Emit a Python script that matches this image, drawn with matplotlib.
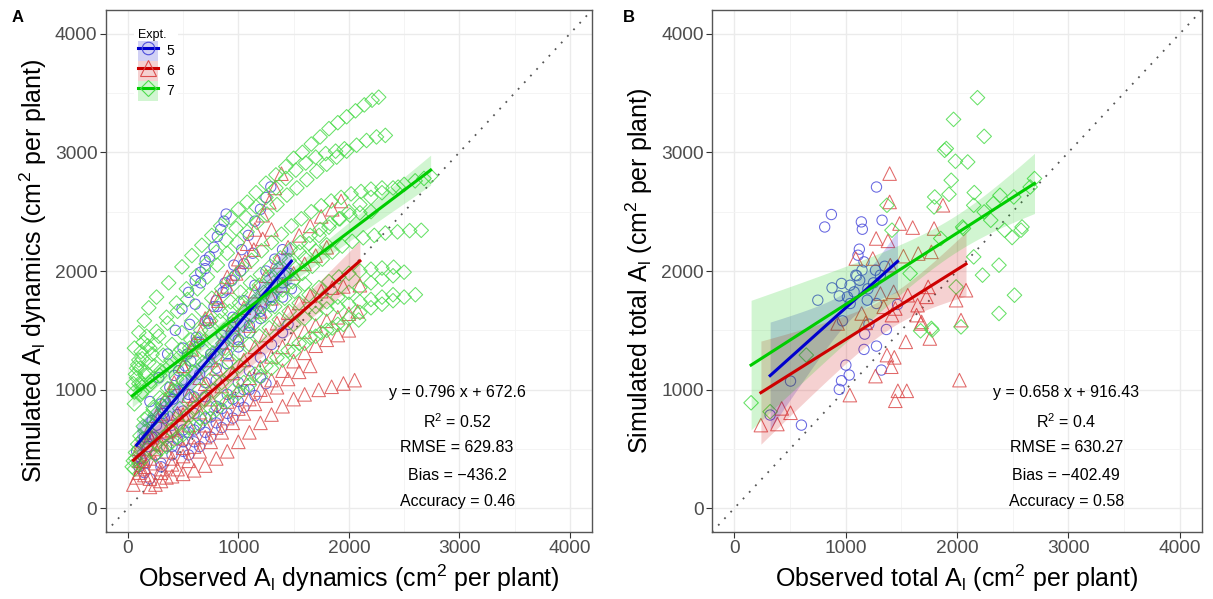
import numpy as np
import matplotlib
matplotlib.use("Agg")
import matplotlib.pyplot as plt
from matplotlib.lines import Line2D
from matplotlib.patches import Patch
from matplotlib.ticker import MultipleLocator

# ---------------------------------------------------------------
# data
# ---------------------------------------------------------------

# panel A - leaf area dynamics, (observed, simulated) per expt
a5_pts = [
    (100,350),(180,520),(260,700),(340,900),(420,1120),(500,1350),(560,1550),(610,1720),
    (660,1900),(700,2020),(740,2120),(780,2200),(810,2290),(840,2350),(870,2420),(890,2480),
    (120,420),(220,600),(320,800),(420,1000),(520,1200),(620,1400),(720,1580),(800,1750),
    (880,1900),(960,2050),(1030,2180),(1090,2300),(1150,2420),(1200,2520),(1250,2620),(1294,2709),
    (150,300),(250,450),(350,620),(450,790),(550,960),(650,1130),(750,1300),(850,1460),
    (950,1610),(1050,1750),(1150,1880),(1250,2000),(1330,2100),(1400,2180),
    (200,250),(300,380),(400,520),(500,660),(600,800),(700,940),(800,1080),(900,1220),
    (1000,1360),(1100,1480),(1200,1600),(1300,1700),(1400,1780),(1480,1850),
    (250,600),(330,760),(410,920),(490,1080),(570,1240),(650,1400),(730,1560),(810,1700),
    (890,1840),(970,1960),(1050,2060),(1130,2150),
    (150,380),(250,450),(350,520),(450,580),(550,640),(650,700),(750,770),(850,840),
    (950,920),(1050,1000),
    (80,480),(150,600),(220,740),(300,880),(380,1020),(460,1160),(540,1300),(620,1440),
    (700,1580),(780,1700),(860,1820),(940,1920),(1020,2000),
    (200,900),(280,1100),(360,1300),(430,1500),(490,1680),(550,1820),(610,1920),(660,1990),(700,2090),
    (300,350),(400,450),(500,560),(600,660),(700,760),(800,860),(900,960),(1000,1060),
    (1100,1160),(1200,1270),(1300,1380),(1400,1480),(1450,1550),
    (400,700),(500,820),(600,940),(700,1060),(800,1180),(900,1300),(1000,1420),(1100,1540),
    (1200,1660),(1300,1780),(1400,1900),(1460,1980),
    (500,480),(600,560),(700,640),(800,720),(900,800),(1000,900),(1100,1000),(1200,1100),
    (550,450),(650,520),(750,600),(850,680),(950,760),(1050,850),(1150,950),(1250,1050),
]

a6_pts = [
    (100,400),(200,600),(300,800),(400,1000),(500,1200),(600,1400),(700,1600),(800,1780),
    (900,1950),(1000,2100),(1080,2230),(1150,2350),(1220,2470),(1280,2580),(1330,2700),(1390,2820),
    (150,350),(250,500),(350,650),(450,800),(550,950),(650,1100),(750,1250),(850,1400),
    (950,1550),(1050,1690),(1150,1830),(1250,1960),(1350,2080),(1450,2200),(1550,2300),(1650,2380),
    (1750,2460),(1850,2520),(1930,2590),
    (100,300),(200,420),(300,540),(400,660),(500,790),(600,920),(700,1050),(800,1180),
    (900,1300),(1000,1420),(1100,1540),(1200,1660),(1300,1770),(1400,1880),(1500,1980),(1600,2060),
    (1700,2130),(1800,2200),
    (150,280),(250,380),(350,480),(450,590),(550,700),(650,810),(750,920),(850,1030),
    (950,1140),(1050,1250),(1150,1360),(1250,1460),(1350,1560),(1450,1650),(1550,1730),(1650,1790),
    (1750,1830),(1850,1860),(1950,1870),(2100,1880),
    (200,250),(300,330),(400,420),(500,510),(600,600),(700,700),(800,800),(900,900),
    (1000,1000),(1100,1100),(1200,1190),(1300,1280),(1400,1360),(1500,1430),(1600,1490),(1700,1540),
    (1800,1580),(1900,1610),(2000,1640),(2080,1660),
    (200,180),(300,230),(400,270),(500,290),(600,320),(700,360),(800,420),(900,480),
    (1000,560),(1100,640),(1200,720),(1300,790),(1400,860),(1500,920),(1600,960),(1727,998),
    (1844,1024),(1951,1052),(2052,1080),
    (300,300),(400,370),(500,440),(600,520),(700,600),(800,680),(900,760),(1000,840),
    (1100,920),(1200,1000),(1300,1080),(1400,1160),(1500,1240),(1600,1310),(1700,1370),(1800,1420),
    (1900,1460),(2000,1500),
    (100,500),(180,640),(260,780),(340,920),(420,1060),(500,1200),(580,1340),(660,1480),
    (740,1620),(820,1750),(900,1870),(980,1980),(1060,2080),(1140,2180),(1220,2270),(1300,2350),
    (250,200),(350,260),(450,330),(550,400),(650,480),(750,560),(850,640),(950,720),
    (1050,800),(1150,880),(1250,950),(1350,1020),(1450,1090),(1550,1150),(1650,1200),
    (50,200),(80,260),(110,330),(140,400),
]

a7_pts = [
    (60,1350),(100,1480),(150,1580),(190,1690),(260,1780),(370,1900),(490,2035),(580,2130),
    (670,2217),(760,2300),(840,2380),(930,2450),(1000,2520),(1080,2580),(1160,2660),
    (1250,2740),(1340,2810),(1430,2880),(1500,2950),(1580,3000),(1660,3070),(1740,3130),(1820,3200),
    (1900,3250),(1980,3300),(2060,3350),(2140,3400),(2210,3440),(2270,3465),
    (100,1250),(180,1370),(260,1490),(350,1610),(440,1730),(530,1850),(620,1960),(710,2060),
    (800,2160),(890,2260),(980,2360),(1070,2450),(1160,2540),(1250,2620),(1340,2700),(1430,2780),
    (1520,2850),(1610,2910),(1700,2960),(1790,2990),(1880,3010),(1960,3030),
    (80,1180),(130,1260),(200,1350),(280,1450),(360,1560),(450,1660),(540,1760),(630,1850),
    (720,1950),(810,2050),(900,2150),(990,2240),(1080,2330),(1170,2410),(1260,2480),(1350,2560),
    (1440,2640),(1530,2700),(1620,2770),(1710,2840),(1800,2900),(1890,2960),(1980,3010),(2070,3060),
    (2160,3100),(2250,3130),(2330,3143),
    (100,1050),(160,1120),(240,1200),(320,1290),(400,1380),(490,1480),(580,1580),(670,1670),
    (760,1770),(850,1850),(940,1930),(1030,2010),(1120,2090),(1210,2170),(1300,2240),(1390,2310),
    (1480,2380),(1570,2440),(1660,2500),(1750,2550),(1840,2590),(1930,2620),(2020,2650),(2110,2670),
    (2200,2690),(2300,2700),(2446,2707),
    (130,980),(210,1070),(300,1160),(390,1250),(480,1340),(570,1420),(660,1500),(750,1580),
    (840,1660),(930,1740),(1020,1820),(1110,1900),(1200,1970),(1290,2040),(1380,2110),(1470,2180),
    (1560,2240),(1650,2300),(1740,2350),(1830,2400),(1920,2440),(2010,2470),(2100,2490),(2200,2500),
    (60,880),(120,960),(200,1040),(290,1120),(380,1200),(470,1280),(560,1350),(650,1430),
    (740,1500),(830,1580),(920,1660),(1010,1730),(1100,1800),(1190,1880),(1280,1950),(1370,2020),
    (1460,2090),(1550,2160),(1640,2230),(1730,2300),(1820,2370),(1910,2440),(2000,2500),(2100,2560),
    (2200,2620),(2300,2660),(2400,2700),(2500,2730),(2600,2760),(2680,2780),(2740,2800),
    (50,400),(70,470),(90,540),(110,610),(140,690),(180,770),(230,850),(290,930),
    (360,1010),(440,1090),(520,1170),(600,1250),(690,1330),(780,1410),(870,1500),(960,1580),
    (1050,1660),(1140,1740),(1230,1820),(1320,1900),(1410,1970),(1500,2040),(1600,2110),(1700,2170),
    (1800,2220),
    (150,750),(230,830),(320,910),(410,990),(500,1070),(590,1150),(680,1230),(770,1310),
    (860,1390),(950,1470),(1040,1550),(1130,1620),(1220,1700),(1310,1770),(1400,1840),(1490,1910),
    (1580,1980),(1670,2040),(1760,2100),(1850,2160),(1940,2210),(2030,2250),(2130,2280),(2230,2300),
    (2330,2320),(2440,2330),(2550,2340),(2655,2343),
    (200,600),(290,680),(380,760),(470,840),(560,920),(650,1000),(740,1080),(830,1160),
    (920,1240),(1010,1310),(1100,1380),(1190,1450),(1280,1520),(1370,1590),(1460,1660),(1550,1730),
    (1640,1800),(1730,1860),(1820,1910),(1910,1950),(2000,1980),(2100,2000),(2200,2015),(2300,2025),
    (2405,2032),
    (1700,1700),(1800,1740),(1900,1780),(2000,1820),(2100,1860),(2200,1900),(2300,1930),(2400,1960),
    (2500,1990),
    (1500,1550),(1600,1600),(1700,1640),(1800,1680),(1900,1700),(2000,1720),(2100,1740),(2200,1760),
    (2300,1780),(2400,1800),
    (300,500),(400,560),(500,620),(600,690),(700,760),(800,830),(900,900),(1000,970),
    (1100,1040),(1200,1110),(1300,1180),(1400,1250),(1500,1320),(1600,1390),(1700,1450),(1800,1500),
    (1900,1550),(2000,1600),(2100,1650),(2200,1690),(2300,1720),(2400,1750),(2500,1780),(2602,1800),
    (250,450),(350,520),(450,600),(550,680),(650,760),(750,840),(850,920),(950,990),
    (1050,1060),(1150,1130),(1250,1200),(1350,1270),(1450,1330),(1550,1390),(1650,1440),(1750,1480),
    (1850,1520),(1950,1550),(2089,1587),
    (60,330),(100,380),(150,430),(200,480),(260,540),(320,600),(390,660),(460,720),
    (530,780),(610,850),(690,920),(770,990),(850,1060),(930,1130),(1010,1200),
    (40,350),(70,420),(100,500),(130,580),(160,650),(200,720),(250,790),(310,860),
    (380,930),(450,1000),(530,1070),(610,1140),(700,1210),(790,1280),(880,1350),(970,1420),
    (1060,1490),(1150,1560),(1240,1630),(1330,1700),(1420,1770),(1510,1830),(1600,1890),
    (50,1050),(70,1130),(90,1210),(60,980),(120,1320),(140,1400),(170,1450),(80,1100),
    (110,1180),(130,1050),(160,1150),(190,1230),(220,1300),(250,1380),
]

# panel B - total leaf area, (observed, simulated) per expt
b5_pts = [
    (1277,2708),(872,2476),(812,2371),(1141,2414),(1150,2352),(1327,2428),(1123,2184),(1111,2133),
    (1165,2077),(1147,2007),(1268,2007),(1351,2040),(1091,1965),(1126,1922),(1312,1965),(963,1895),
    (878,1858),(1040,1880),(1076,1824),(943,1790),(1016,1782),(750,1754),(1041,1726),(1194,1754),
    (1277,1726),(1466,1718),(972,1580),(1171,1468),(1209,1552),(1277,1367),(1165,1339),(1366,1507),
    (1321,1165),(1002,1207),(1032,1123),(963,1075),(943,1002),(505,1072),(322,786),(603,701),
    (1200,1850),(1250,1900),(1100,1960),
]

b6_pts = [
    (1395,2821),(1395,2582),(1874,2554),(1484,2400),(1602,2366),(1794,2358),(1274,2274),(1380,2254),
    (1091,2105),(1244,2105),(1519,2125),(1652,2147),(1770,2161),(1401,2049),(1741,1866),(1992,1754),
    (2081,1838),(1312,1810),(1431,1824),(1558,1796),(1646,1712),(1144,1642),(1342,1698),(1416,1628),
    (1726,1782),(2036,1586),(1676,1558),(928,1558),(1180,1563),(1637,1628),(1540,1403),(1756,1431),
    (1371,1291),(1437,1272),(1410,1193),(1268,1114),(1038,954),(1469,990),(1549,990),(1446,906),
    (2022,1080),(426,842),(505,805),(239,701),(387,710),(1446,1684),(1682,1571),
]

b7_pts = [
    (2184,3461),(1969,3278),(2244,3135),(1889,3017),(1904,3032),(1986,2925),(2096,2919),(1948,2765),
    (1928,2647),(2155,2661),(1800,2624),(1794,2540),(2150,2554),(2696,2779),(1371,2554),(2386,2638),
    (2657,2708),(2326,2568),(2244,2498),(2510,2624),(2051,2371),(2584,2371),(2303,2428),(2427,2344),
    (2495,2282),(2575,2344),(1416,2344),(1854,2274),(2058,2358),(2150,2119),(2229,1965),(2377,2049),
    (2516,1796),(2377,1642),(1579,1979),(1770,1516),(1992,1866),(2036,1529),(1673,1496),(1777,1502),
    (647,1291),(151,889),(322,814),
]

expts = ["5", "6", "7"]
stats_a = ["y = 0.796 x + 672.6", "R$^{2}$ = 0.52", "RMSE = 629.83", "Bias = \u2212436.2", "Accuracy = 0.46"]
stats_b = ["y = 0.658 x + 916.43", "R$^{2}$ = 0.4", "RMSE = 630.27", "Bias = \u2212402.49", "Accuracy = 0.58"]

# ---------------------------------------------------------------
# style
# ---------------------------------------------------------------
plt.rcParams['font.family'] = ['Liberation Sans', 'DejaVu Sans']
plt.rcParams['mathtext.fontset'] = 'custom'
plt.rcParams['mathtext.rm'] = 'Liberation Sans'
plt.rcParams['mathtext.default'] = 'regular'

line_cols = {"5": "#0000CD", "6": "#CD0000", "7": "#00CD00"}
pt_cols = {"5": "#4D4DDC", "6": "#DC4D4D", "7": "#4DDC4D"}
markers = {"5": "o", "6": "^", "7": "D"}
sizes = {"5": 55, "6": 95, "7": 55}
T_CRIT = 2.0


def fit_band(pts):
    x = np.array([p[0] for p in pts], float)
    y = np.array([p[1] for p in pts], float)
    b, a = np.polyfit(x, y, 1)
    n = len(x)
    s = np.sqrt(np.sum((y - (a + b * x)) ** 2) / (n - 2))
    sxx = np.sum((x - x.mean()) ** 2)
    xs = np.linspace(x.min(), x.max(), 100)
    se = s * np.sqrt(1 / n + (xs - x.mean()) ** 2 / sxx)
    yhat = a + b * xs
    return xs, yhat, yhat - T_CRIT * se, yhat + T_CRIT * se


def draw_panel(ax, series, stats, xlabel, ylabel):
    ax.set_xlim(-200, 4200)
    ax.set_ylim(-200, 4200)
    ax.xaxis.set_major_locator(MultipleLocator(1000))
    ax.yaxis.set_major_locator(MultipleLocator(1000))
    ax.xaxis.set_minor_locator(MultipleLocator(500))
    ax.yaxis.set_minor_locator(MultipleLocator(500))
    ax.grid(which='major', color='#EBEBEB', lw=1.0, zorder=0)
    ax.grid(which='minor', color='#F3F3F3', lw=0.6, zorder=0)
    ax.set_axisbelow(True)
    ax.tick_params(which='minor', length=0)
    ax.tick_params(which='major', length=4, width=0.8, color='#333333',
                   labelsize=13.8, labelcolor='#4D4D4D', pad=2)
    for sp in ax.spines.values():
        sp.set_color('#555555')
        sp.set_linewidth(1.0)

    # 1:1 line
    ax.plot([-200, 4200], [-200, 4200], ls=(0, (1, 4)), color='#555555', lw=1.3, zorder=1)

    for e, pts in zip(expts, series):
        ax.scatter([p[0] for p in pts], [p[1] for p in pts], marker=markers[e], s=sizes[e],
                   facecolors='none', edgecolors=pt_cols[e], linewidths=0.75, alpha=0.85, zorder=2)
    for e, pts in zip(expts, series):
        xs, yhat, lo, hi = fit_band(pts)
        ax.fill_between(xs, lo, hi, color=line_cols[e], alpha=0.18, lw=0, zorder=3)
        ax.plot(xs, yhat, color=line_cols[e], lw=2.2, zorder=4)

    for txt, yy in zip(stats, [974, 729, 510, 278, 61]):
        ax.text(2980, yy, txt, ha='center', va='center', fontsize=11.5, zorder=5)

    ax.set_xlabel(xlabel, fontsize=18, labelpad=4)
    ax.set_ylabel(ylabel, fontsize=18, labelpad=4)


fig = plt.figure(figsize=(12.13, 5.99), dpi=100)
axA = fig.add_axes([105.7 / 1213, 67 / 599, 486.3 / 1213, 522 / 599])
axB = fig.add_axes([712 / 1213, 67 / 599, 490 / 1213, 522 / 599])

draw_panel(axA, [a5_pts, a6_pts, a7_pts], stats_a,
           "Observed A$_{l}$ dynamics (cm$^{2}$ per plant)",
           "Simulated A$_{l}$ dynamics (cm$^{2}$ per plant)")
draw_panel(axB, [b5_pts, b6_pts, b7_pts], stats_b,
           "Observed total A$_{l}$ (cm$^{2}$ per plant)",
           "Simulated total A$_{l}$ (cm$^{2}$ per plant)")

# legend in panel A
handles = []
for e in expts:
    handles.append((Patch(facecolor=line_cols[e], alpha=0.18, edgecolor='none'),
                    Line2D([], [], color=line_cols[e], lw=2.2, marker=markers[e],
                           markersize={"5": 9, "6": 11, "7": 8}[e], markerfacecolor='none',
                           markeredgecolor=pt_cols[e], markeredgewidth=0.8)))
leg = axA.legend(handles, expts, title="Expt.", loc='upper left', bbox_to_anchor=(0.058, 0.972),
                 fontsize=10, title_fontsize=9, alignment='left', frameon=True,
                 facecolor='white', edgecolor='none', framealpha=1, handlelength=1.45,
                 handleheight=1.84, labelspacing=0.0, handletextpad=0.6, borderpad=0.3,
                 borderaxespad=0)

fig.text(18 / 1213, 1 - 17 / 599, "A", fontsize=12, fontweight='bold', ha='center', va='center')
fig.text(629 / 1213, 1 - 17 / 599, "B", fontsize=12, fontweight='bold', ha='center', va='center')

fig.savefig("out.png", dpi=100)
